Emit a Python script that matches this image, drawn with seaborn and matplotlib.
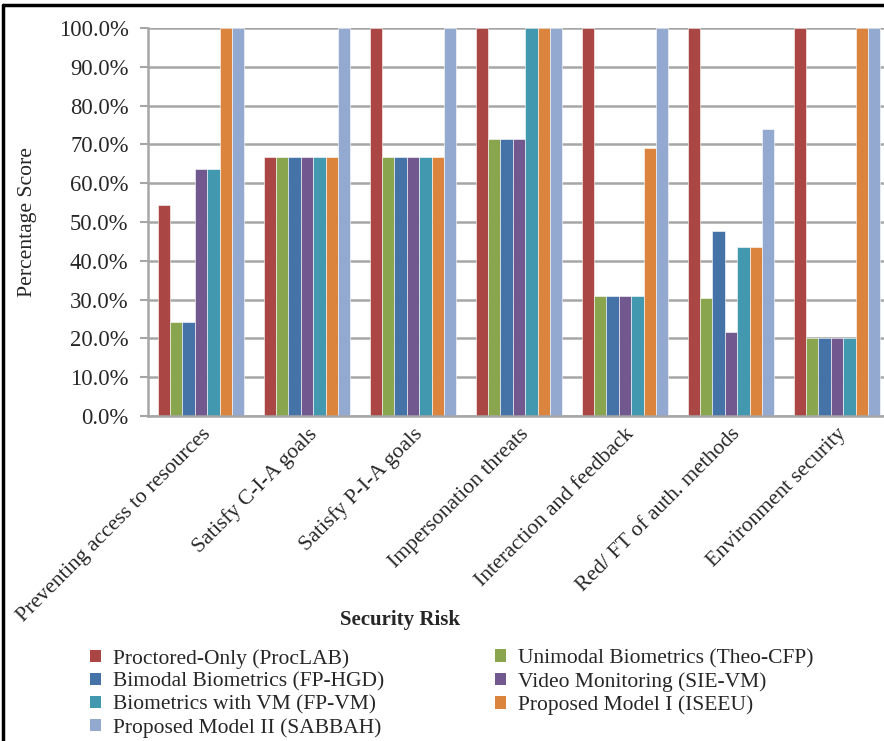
import numpy as np
import pandas as pd
import matplotlib.pyplot as plt
import seaborn as sns
from matplotlib.lines import Line2D
from matplotlib.patches import Patch

# Security risk categories on the x axis
risks = [
    "Preventing access to resources",
    "Satisfy C-I-A goals",
    "Satisfy P-I-A goals",
    "Impersonation threats",
    "Interaction and feedback",
    "Red/ FT of auth. methods",
    "Environment security",
]

models = [
    "Proctored-Only (ProcLAB)",
    "Unimodal Biometrics (Theo-CFP)",
    "Bimodal Biometrics (FP-HGD)",
    "Video Monitoring (SIE-VM)",
    "Biometrics with VM (FP-VM)",
    "Proposed Model I (ISEEU)",
    "Proposed Model II (SABBAH)",
]

# Percentage scores per model, one value per risk
proclab = [54.5, 66.7, 100.0, 100.0, 100.0, 100.0, 100.0]
theo_cfp = [24.2, 66.7, 66.7, 71.4, 30.8, 30.4, 20.0]
fp_hgd = [24.2, 66.7, 66.7, 71.4, 30.8, 47.8, 20.0]
sie_vm = [63.6, 66.7, 66.7, 71.4, 30.8, 21.7, 20.0]
fp_vm = [63.6, 66.7, 66.7, 100.0, 30.8, 43.5, 20.0]
iseeu = [100.0, 66.7, 66.7, 100.0, 69.2, 43.5, 100.0]
sabbah = [100.0, 100.0, 100.0, 100.0, 100.0, 73.9, 100.0]

colors = ["#AA4643", "#89A54E", "#4572A7", "#71588F", "#4198AF", "#DB843D", "#93A9CF"]

series = [proclab, theo_cfp, fp_hgd, sie_vm, fp_vm, iseeu, sabbah]
rows = []
for model, vals in zip(models, series):
    for risk, v in zip(risks, vals):
        rows.append({"Risk": risk, "Model": model, "Score": v})
df = pd.DataFrame(rows)

sns.set_style("white")
plt.rcParams["font.family"] = ["Liberation Serif", "DejaVu Serif"]

fig = plt.figure(figsize=(8.84, 7.41), dpi=100)
# axes in pixels: left 148, right ~890, top 28, bottom 416
ax = fig.add_axes([148 / 884, 1 - 416 / 741, 742 / 884, 388 / 741])

sns.barplot(
    data=df, x="Risk", y="Score", hue="Model",
    order=risks, hue_order=models, palette=colors,
    width=0.82, gap=0, saturation=1, ax=ax, legend=False,
    edgecolor="white", linewidth=0.4,
)

ax.set_ylim(0, 100)
ax.set_yticks(np.arange(0, 101, 10))
ax.set_yticklabels([f"{t:.1f}%" for t in np.arange(0, 101, 10)], fontsize=16.3)
ax.yaxis.grid(True, color="#A6A6A6", linewidth=1.8)
ax.set_axisbelow(True)
for s in ["top", "right"]:
    ax.spines[s].set_visible(False)
for s in ["left", "bottom"]:
    ax.spines[s].set_color("#A6A6A6")
    ax.spines[s].set_linewidth(1.8)
ax.tick_params(axis="y", length=6, width=1.5, color="#A6A6A6", pad=8, left=True)
ax.tick_params(axis="x", length=0, pad=6)
ax.set_xticks(range(len(risks)))
ax.set_xticklabels(risks, rotation=45, ha="right", rotation_mode="anchor", fontsize=15.7)
ax.set_xlabel("")
ax.set_ylabel("Percentage Score", fontsize=15.6)
ax.yaxis.set_label_coords(-0.15, 0.5)

fig.text(400 / 884, 1 - 620 / 741, "Security Risk", ha="center", va="center",
         fontsize=15, fontweight="bold")

# legend laid out row by row as in the original: two columns placed separately
left_idx = [0, 2, 4, 6]
right_idx = [1, 3, 5]
for idx, x0 in [(left_idx, 90), (right_idx, 495)]:
    leg = fig.legend(
        [Patch(facecolor=colors[i], edgecolor="none") for i in idx],
        [models[i] for i in idx],
        loc="upper left", bbox_to_anchor=(x0 / 884, 1 - 649 / 741),
        frameon=False, fontsize=15.5, handlelength=0.5, handleheight=0.5,
        handletextpad=0.55, labelspacing=0.17, borderaxespad=0, borderpad=0,
    )

# outer frame of the figure (top and left visible)
fig.add_artist(Line2D([3 / 884, 3 / 884], [0, 1 - 5 / 741], transform=fig.transFigure,
                      color="black", linewidth=2.5))
fig.add_artist(Line2D([3 / 884, 1], [1 - 5 / 741, 1 - 5 / 741], transform=fig.transFigure,
                      color="black", linewidth=2.5))

fig.savefig("out.png", dpi=100)
